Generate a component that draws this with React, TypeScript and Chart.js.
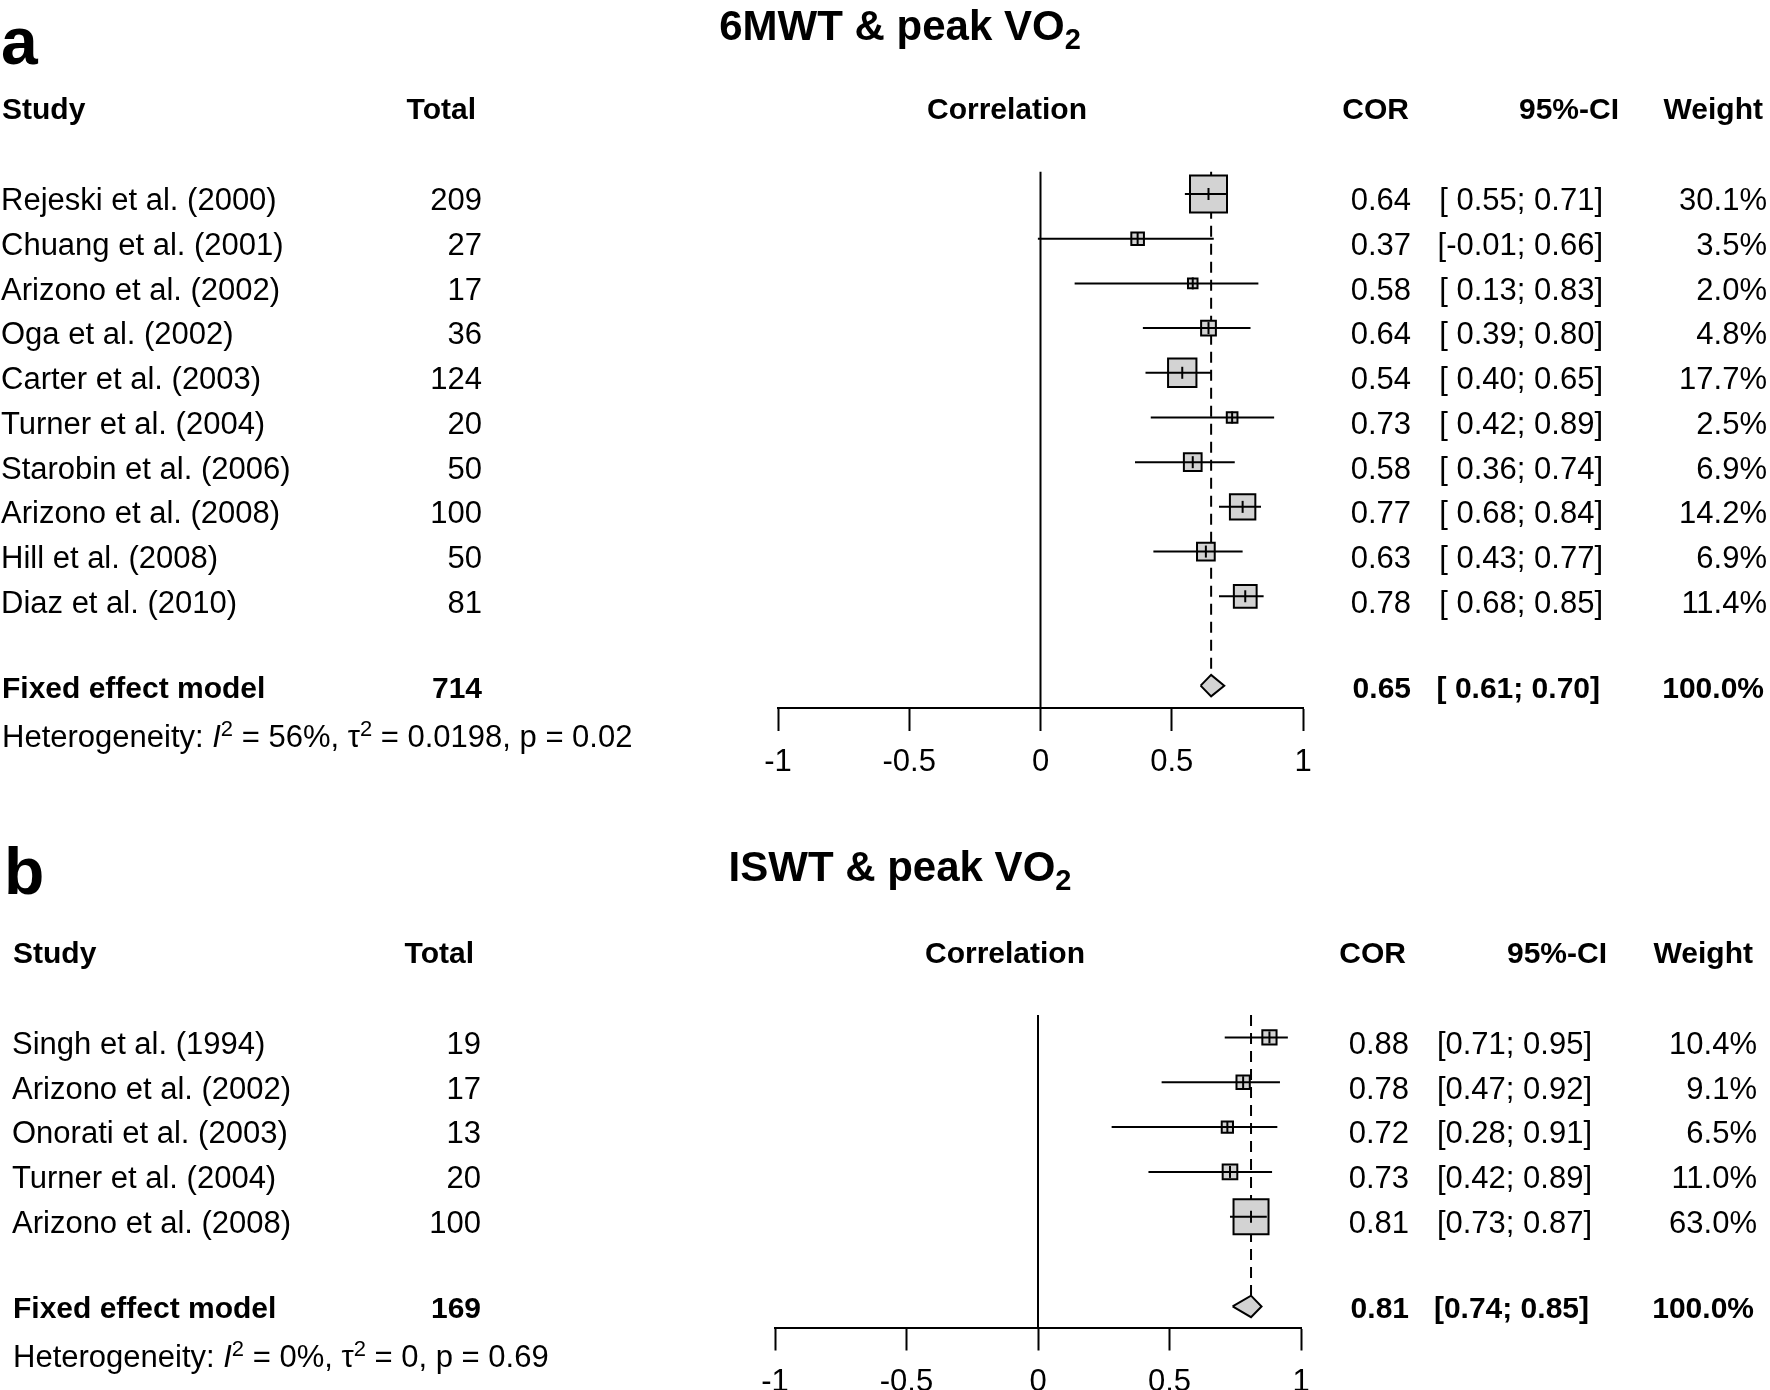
import React, { useEffect, useRef } from "react";
import { Chart, registerables } from "chart.js";

Chart.register(...registerables);

const FONT = "'Liberation Sans', Arial, Helvetica, sans-serif";
const PAGE_W = 1770;

// ---------- Panel a: 6MWT & peak VO2 ----------
const A_STUDY = [
  "Rejeski et al. (2000)",
  "Chuang et al. (2001)",
  "Arizono et al. (2002)",
  "Oga et al. (2002)",
  "Carter et al. (2003)",
  "Turner et al. (2004)",
  "Starobin et al. (2006)",
  "Arizono et al. (2008)",
  "Hill et al. (2008)",
  "Diaz et al. (2010)",
];
const A_TOTAL = [209, 27, 17, 36, 124, 20, 50, 100, 50, 81];
const A_COR = [0.64, 0.37, 0.58, 0.64, 0.54, 0.73, 0.58, 0.77, 0.63, 0.78];
const A_LOWER = [0.55, -0.01, 0.13, 0.39, 0.4, 0.42, 0.36, 0.68, 0.43, 0.68];
const A_UPPER = [0.71, 0.66, 0.83, 0.8, 0.65, 0.89, 0.74, 0.84, 0.77, 0.85];
const A_WEIGHT = [30.1, 3.5, 2.0, 4.8, 17.7, 2.5, 6.9, 14.2, 6.9, 11.4];
const A_FIXED = [0.65, 0.61, 0.7]; // estimate, lower, upper
const A_FIXED_TOTAL = 714;
const A_FIXED_WEIGHT = 100.0;
const A_HET = ["56%", "0.0198", "0.02"]; // I2, tau2, p

// ---------- Panel b: ISWT & peak VO2 ----------
const B_STUDY = [
  "Singh et al. (1994)",
  "Arizono et al. (2002)",
  "Onorati et al. (2003)",
  "Turner et al. (2004)",
  "Arizono et al. (2008)",
];
const B_TOTAL = [19, 17, 13, 20, 100];
const B_COR = [0.88, 0.78, 0.72, 0.73, 0.81];
const B_LOWER = [0.71, 0.47, 0.28, 0.42, 0.73];
const B_UPPER = [0.95, 0.92, 0.91, 0.89, 0.87];
const B_WEIGHT = [10.4, 9.1, 6.5, 11.0, 63.0];
const B_FIXED = [0.81, 0.74, 0.85];
const B_FIXED_TOTAL = 169;
const B_FIXED_WEIGHT = 100.0;
const B_HET = ["0%", "0", "0.69"];

const AXIS_TICKS = [-1, -0.5, 0, 0.5, 1];

type Layout = {
  canvasTop: number;
  canvasH: number;
  axisLeft: number;
  axisRight: number;
  areaTop: number;
  areaBottom: number;
  yTop: number;
  yAxis: number;
  headerRow: number;
  hetRow: number;
  letterX: number;
  letterBase: number;
  titleBase: number;
  studyX: number;
  totalX: number;
  totalHeadX: number;
  corrHeadX: number;
  corX: number;
  corHeadX: number;
  ciX: number;
  ciHeadX: number;
  wX: number;
  wHeadX: number;
  boxMax: number;
};

type Panel = {
  letter: string;
  title: string;
  study: string[];
  total: number[];
  cor: number[];
  lower: number[];
  upper: number[];
  weight: number[];
  fixed: number[];
  fixedTotal: number;
  fixedWeight: number;
  het: string[];
  padCI: boolean;
  L: Layout;
};

const PANEL_A: Panel = {
  letter: "a",
  title: "6MWT & peak VO",
  study: A_STUDY,
  total: A_TOTAL,
  cor: A_COR,
  lower: A_LOWER,
  upper: A_UPPER,
  weight: A_WEIGHT,
  fixed: A_FIXED,
  fixedTotal: A_FIXED_TOTAL,
  fixedWeight: A_FIXED_WEIGHT,
  het: A_HET,
  padCI: true,
  L: {
    canvasTop: 0,
    canvasH: 790,
    axisLeft: 778,
    axisRight: 1303,
    areaTop: 171.65,
    areaBottom: 708,
    yTop: 0.5,
    yAxis: 12.5,
    headerRow: -1,
    hetRow: 13.1,
    letterX: 1,
    letterBase: 64,
    titleBase: 40,
    studyX: 1,
    totalX: 482,
    totalHeadX: 476,
    corrHeadX: 1007,
    corX: 1411,
    corHeadX: 1409,
    ciX: 1603,
    ciHeadX: 1619,
    wX: 1767,
    wHeadX: 1763,
    boxMax: 37,
  },
};

const PANEL_B: Panel = {
  letter: "b",
  title: "ISWT & peak VO",
  study: B_STUDY,
  total: B_TOTAL,
  cor: B_COR,
  lower: B_LOWER,
  upper: B_UPPER,
  weight: B_WEIGHT,
  fixed: B_FIXED,
  fixedTotal: B_FIXED_TOTAL,
  fixedWeight: B_FIXED_WEIGHT,
  het: B_HET,
  padCI: false,
  L: {
    canvasTop: 790,
    canvasH: 600,
    axisLeft: 775,
    axisRight: 1301,
    areaTop: 225,
    areaBottom: 537.5,
    yTop: 0.5,
    yAxis: 7.47,
    headerRow: -0.98,
    hetRow: 8.07,
    letterX: 4,
    letterBase: 104,
    titleBase: 91,
    studyX: 12,
    totalX: 481,
    totalHeadX: 474,
    corrHeadX: 1005,
    corX: 1409,
    corHeadX: 1406,
    ciX: 1592,
    ciHeadX: 1607,
    wX: 1757,
    wHeadX: 1753,
    boxMax: 35,
  },
};

const DIAMOND_HALF = 0.24;
const GREY = "#d3d3d3";

type Seg = { t: string; size: number; bold?: boolean; italic?: boolean; dy?: number };

function segFont(s: Seg) {
  return `${s.italic ? "italic " : ""}${s.bold ? "bold " : ""}${s.size}px ${FONT}`;
}

function drawSegs(ctx: CanvasRenderingContext2D, segs: Seg[], x: number, y: number, align: "left" | "center") {
  let total = 0;
  for (const s of segs) {
    ctx.font = segFont(s);
    total += ctx.measureText(s.t).width;
  }
  let cx = align === "center" ? x - total / 2 : x;
  ctx.textAlign = "left";
  for (const s of segs) {
    ctx.font = segFont(s);
    ctx.fillText(s.t, cx, y + (s.dy || 0));
    cx += ctx.measureText(s.t).width;
  }
}

function fmtCI(lo: number, hi: number, pad: boolean) {
  const l = lo.toFixed(2);
  const lp = pad && lo >= 0 ? " " + l : l;
  return `[${lp}; ${hi.toFixed(2)}]`;
}

function makeTextPlugin(p: Panel) {
  return {
    id: "forestText",
    afterDraw(chart: any) {
      const ctx: CanvasRenderingContext2D = chart.ctx;
      const ys = chart.scales.y;
      const L = p.L;
      const rowBase = (r: number, size: number) => ys.getPixelForValue(r) + size * 0.4;
      ctx.save();
      ctx.fillStyle = "#000";
      ctx.textBaseline = "alphabetic";

      // panel letter
      ctx.font = `bold 66px ${FONT}`;
      ctx.textAlign = "left";
      ctx.fillText(p.letter, L.letterX, L.letterBase);

      // title with subscript
      drawSegs(
        ctx,
        [
          { t: p.title, size: 42, bold: true },
          { t: "2", size: 29, bold: true, dy: 9 },
        ],
        900,
        L.titleBase,
        "center"
      );

      // headers
      const hb = rowBase(L.headerRow, 30) + 2;
      ctx.font = `bold 30px ${FONT}`;
      ctx.textAlign = "left";
      ctx.fillText("Study", L.studyX + 1, hb);
      ctx.textAlign = "right";
      ctx.fillText("Total", L.totalHeadX, hb);
      ctx.textAlign = "center";
      ctx.fillText("Correlation", L.corrHeadX, hb);
      ctx.textAlign = "right";
      ctx.fillText("COR", L.corHeadX, hb);
      ctx.fillText("95%-CI", L.ciHeadX, hb);
      ctx.fillText("Weight", L.wHeadX, hb);

      // study rows
      ctx.font = `31px ${FONT}`;
      p.study.forEach((name, i) => {
        const b = rowBase(i + 1, 31) + 4;
        ctx.textAlign = "left";
        ctx.fillText(name, L.studyX, b);
        ctx.textAlign = "right";
        ctx.fillText(String(p.total[i]), L.totalX, b);
        ctx.fillText(p.cor[i].toFixed(2), L.corX, b);
        ctx.fillText(fmtCI(p.lower[i], p.upper[i], p.padCI), L.ciX, b);
        ctx.fillText(p.weight[i].toFixed(1) + "%", L.wX, b);
      });

      // fixed effect row
      const fr = p.study.length + 2;
      const fb = rowBase(fr, 30);
      ctx.font = `bold 30px ${FONT}`;
      ctx.textAlign = "left";
      ctx.fillText("Fixed effect model", L.studyX + 1, fb);
      ctx.textAlign = "right";
      ctx.fillText(String(p.fixedTotal), L.totalX, fb);
      ctx.fillText(p.fixed[0].toFixed(2), L.corX, fb);
      ctx.fillText(fmtCI(p.fixed[1], p.fixed[2], p.padCI), L.ciX - 3, fb);
      ctx.fillText(p.fixedWeight.toFixed(1) + "%", L.wX - 3, fb);

      // heterogeneity
      const hetB = rowBase(L.hetRow, 31);
      drawSegs(
        ctx,
        [
          { t: "Heterogeneity: ", size: 31 },
          { t: "I", size: 31, italic: true },
          { t: "2", size: 22, dy: -11 },
          { t: ` = ${p.het[0]}, \u03c4`, size: 31 },
          { t: "2", size: 22, dy: -11 },
          { t: ` = ${p.het[1]}, p = ${p.het[2]}`, size: 31 },
        ],
        L.studyX + 1,
        hetB,
        "left"
      );
      ctx.restore();
    },
  };
}

function buildDatasets(p: Panel) {
  const L = p.L;
  const wmax = Math.max(...p.weight);
  const fr = p.study.length + 2;
  const ds: any[] = [];
  // line of no effect
  ds.push({
    data: [
      { x: 0, y: L.yTop },
      { x: 0, y: L.yAxis },
    ],
    borderColor: "#000",
    borderWidth: 2,
    pointRadius: 0,
    order: 20,
  });
  // dashed line at fixed estimate
  ds.push({
    data: [
      { x: p.fixed[0], y: L.yTop },
      { x: p.fixed[0], y: fr - DIAMOND_HALF },
    ],
    borderColor: "#000",
    borderWidth: 2,
    borderDash: [11, 7],
    pointRadius: 0,
    order: 19,
  });
  // weighted squares
  ds.push({
    data: p.cor.map((c, i) => ({ x: c, y: i + 1 })),
    showLine: false,
    pointStyle: "rect",
    pointRadius: p.weight.map((w) => (L.boxMax * Math.sqrt(w / wmax)) / Math.SQRT2),
    pointBackgroundColor: GREY,
    pointBorderColor: "#000",
    pointBorderWidth: 2,
    order: 10,
  });
  // confidence intervals
  p.lower.forEach((lo, i) => {
    ds.push({
      data: [
        { x: lo, y: i + 1 },
        { x: p.upper[i], y: i + 1 },
      ],
      borderColor: "#000",
      borderWidth: 2,
      pointRadius: 0,
      order: 5,
    });
  });
  // estimate ticks
  ds.push({
    data: p.cor.map((c, i) => ({ x: c, y: i + 1 })),
    showLine: false,
    pointStyle: "line",
    pointRotation: 90,
    pointRadius: 6,
    pointBorderColor: "#000",
    pointBorderWidth: 2,
    order: 4,
  });
  // diamond
  ds.push({
    data: [
      { x: p.fixed[1], y: fr },
      { x: p.fixed[0], y: fr - DIAMOND_HALF },
      { x: p.fixed[2], y: fr },
      { x: p.fixed[0], y: fr + DIAMOND_HALF },
      { x: p.fixed[1], y: fr },
    ],
    fill: "shape",
    backgroundColor: GREY,
    borderColor: "#000",
    borderWidth: 2,
    borderJoinStyle: "miter",
    pointRadius: 0,
    order: 1,
  });
  return ds.map((d) => ({ clip: false, tension: 0, ...d }));
}

function ForestPanel({ p }: { p: Panel }) {
  const ref = useRef<HTMLCanvasElement | null>(null);
  useEffect(() => {
    const canvas = ref.current;
    if (!canvas) return;
    const L = p.L;
    const chart = new Chart(canvas, {
      type: "line",
      data: { datasets: buildDatasets(p) },
      options: {
        animation: false,
        responsive: false,
        devicePixelRatio: 1,
        events: [],
        layout: {
          padding: { left: L.axisLeft, right: PAGE_W - L.axisRight, top: L.areaTop, bottom: 0 },
        },
        plugins: { legend: { display: false }, tooltip: { enabled: false } },
        scales: {
          x: {
            type: "linear",
            position: "bottom",
            min: -1,
            max: 1,
            afterFit: (s: any) => {
              s.height = L.canvasH - L.areaBottom;
            },
            afterBuildTicks: (s: any) => {
              s.ticks = AXIS_TICKS.map((v) => ({ value: v }));
            },
            ticks: {
              callback: (v: any) => String(v),
              font: { family: FONT, size: 31 },
              color: "#000",
              padding: 13,
              maxRotation: 0,
              autoSkip: false,
            },
            grid: {
              drawOnChartArea: false,
              drawTicks: true,
              tickLength: 23,
              tickColor: "#000",
              tickWidth: 2,
              color: "#000",
            },
            border: { display: true, color: "#000", width: 2 },
          },
          y: {
            type: "linear",
            display: false,
            reverse: true,
            min: L.yTop,
            max: L.yAxis,
          },
        },
      } as any,
      plugins: [makeTextPlugin(p)],
    });
    return () => chart.destroy();
  }, [p]);
  return (
    <canvas
      ref={ref}
      width={PAGE_W}
      height={p.L.canvasH}
      style={{ position: "absolute", left: 0, top: p.L.canvasTop, width: PAGE_W, height: p.L.canvasH }}
    />
  );
}

export default function App() {
  return (
    <div
      style={{
        position: "absolute",
        left: 0,
        top: 0,
        width: PAGE_W,
        height: 1390,
        background: "#fff",
        overflow: "hidden",
      }}
    >
      <ForestPanel p={PANEL_A} />
      <ForestPanel p={PANEL_B} />
    </div>
  );
}
